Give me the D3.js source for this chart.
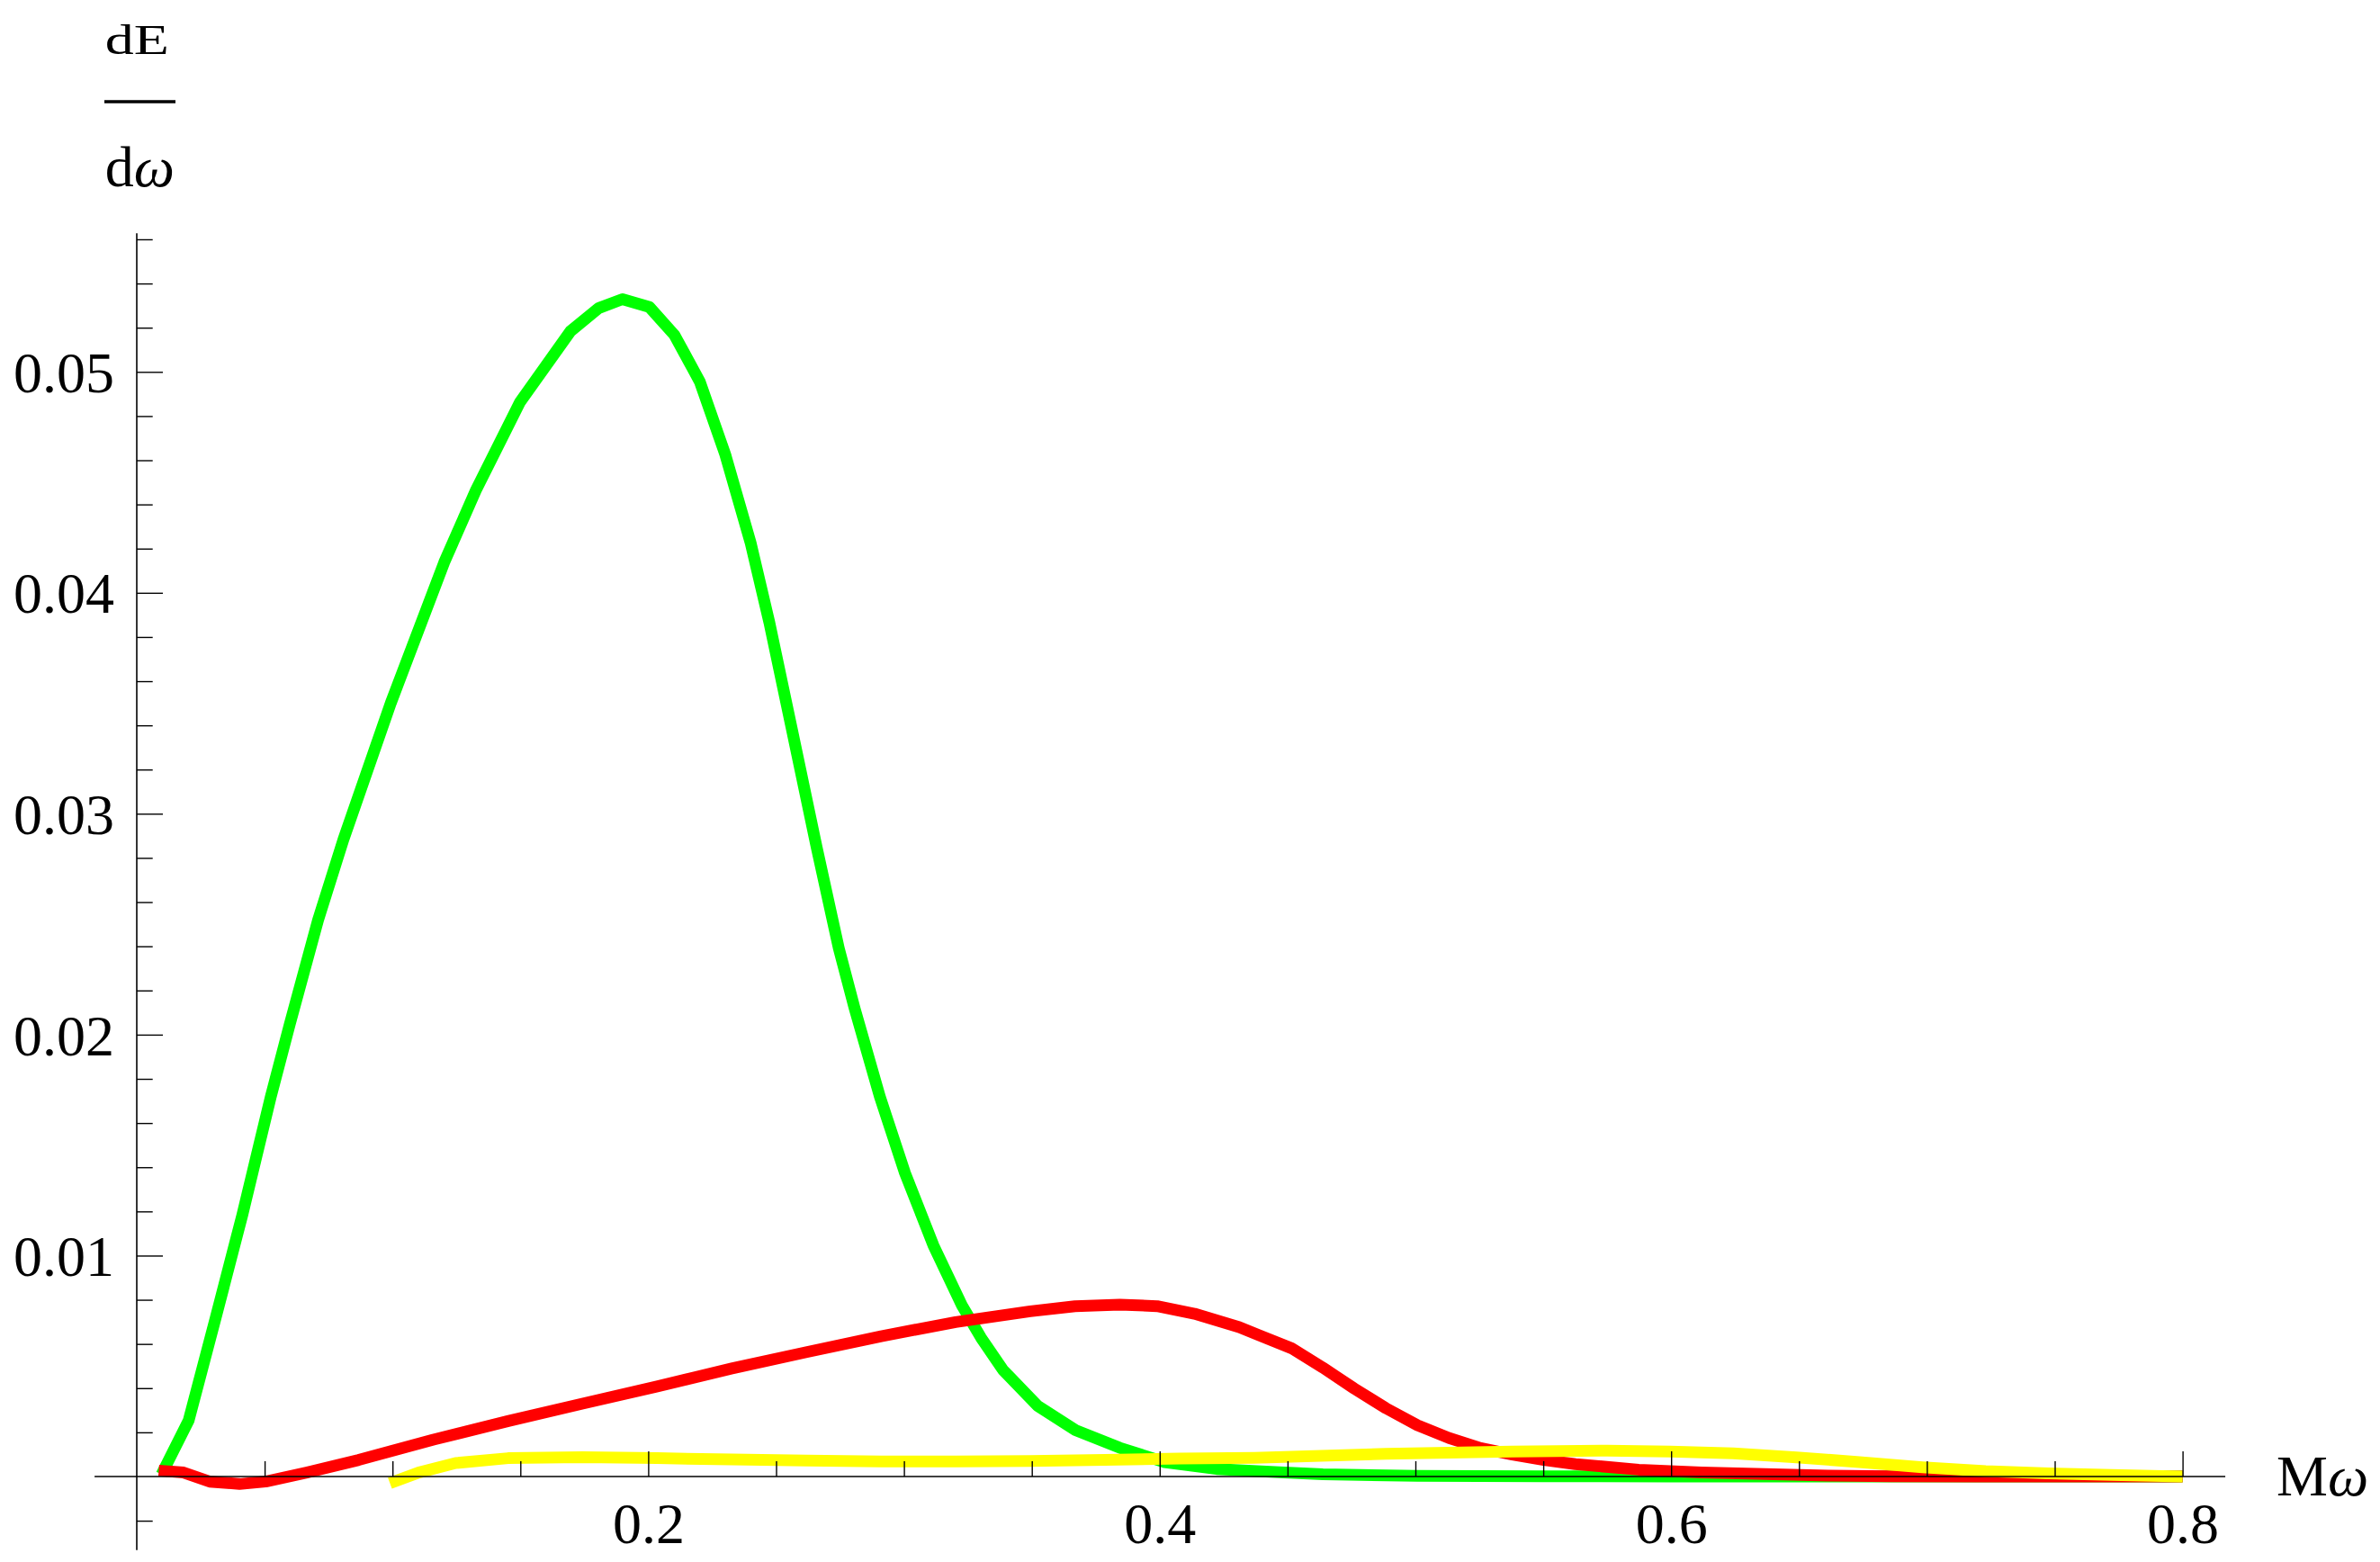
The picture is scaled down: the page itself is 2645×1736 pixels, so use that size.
<!DOCTYPE html>
<html>
<head>
<meta charset="utf-8">
<script src="https://cdn.jsdelivr.net/npm/d3@7"></script>
<style>
  html, body { margin: 0; padding: 0; background: #fff; }
  svg { display: block; }
  text { font-family: "Liberation Serif", "Times New Roman", serif; fill: #000; }
</style>
</head>
<body>
<svg id="chart" width="2645" height="1736"></svg>
<script>
// ---- data ----
const greenX = [0.0097, 0.0203, 0.0309, 0.0413, 0.0524, 0.0598, 0.0709, 0.0808, 0.0993, 0.1202, 0.1326, 0.1499, 0.1696, 0.1807, 0.1899, 0.2005, 0.2103, 0.2202, 0.2301, 0.2400, 0.2474, 0.2560, 0.2659, 0.2745, 0.2807, 0.2906, 0.3004, 0.3115, 0.3227, 0.3301, 0.3387, 0.3523, 0.3671, 0.3844, 0.4019, 0.4223, 0.4486, 0.4638, 0.5007, 0.55, 0.6, 0.65, 0.7, 0.75, 0.8];
const greenY = [0.0001, 0.00254, 0.0072, 0.01185, 0.01719, 0.02046, 0.02519, 0.02883, 0.0350, 0.04137, 0.04464, 0.04864, 0.05184, 0.05289, 0.05329, 0.05293, 0.05166, 0.04955, 0.04627, 0.04228, 0.03864, 0.03392, 0.02846, 0.02392, 0.02119, 0.01719, 0.01374, 0.01047, 0.00774, 0.00629, 0.00483, 0.0032, 0.0021, 0.0013, 0.00065, 0.00034, 0.00018, 0.0001, 0.00003, 0.00001, 0, 0, 0, 0, 0];

const redX = [0.0086, 0.0183, 0.0285, 0.0402, 0.0504, 0.0664, 0.0868, 0.1160, 0.1452, 0.1743, 0.2035, 0.2327, 0.2619, 0.2911, 0.3202, 0.3494, 0.3669, 0.3844, 0.3990, 0.4136, 0.4311, 0.4391, 0.4515, 0.4638, 0.4761, 0.4885, 0.5008, 0.5132, 0.5255, 0.5379, 0.5502, 0.5626, 0.5873, 0.6119, 0.6366, 0.6613, 0.6860, 0.7200, 0.7600, 0.8000];
const redY = [0.00027, 0.00018, -0.00023, -0.00034, -0.00023, 0.00018, 0.00075, 0.00167, 0.00251, 0.0033, 0.00408, 0.00489, 0.00563, 0.00635, 0.00699, 0.00748, 0.00771, 0.00778, 0.00771, 0.00737, 0.00676, 0.00638, 0.00581, 0.00493, 0.00398, 0.00309, 0.00232, 0.00174, 0.00129, 0.00099, 0.00075, 0.00056, 0.00031, 0.00018, 0.00011, 0.00004, 0.00001, 0, 0, 0];

const yellowX = [0.099, 0.1102, 0.1247, 0.1452, 0.1743, 0.2035, 0.2327, 0.2619, 0.2911, 0.3202, 0.3494, 0.3786, 0.4078, 0.4370, 0.4885, 0.5379, 0.5750, 0.5996, 0.6243, 0.6490, 0.6736, 0.6983, 0.7230, 0.7476, 0.7723, 0.8];
const yellowY = [-0.0003, 0.00018, 0.00061, 0.00083, 0.00088, 0.00083, 0.00077, 0.00072, 0.00068, 0.00068, 0.0007, 0.00075, 0.00081, 0.00085, 0.00103, 0.00113, 0.00117, 0.00113, 0.00105, 0.00087, 0.00065, 0.00042, 0.00024, 0.00014, 0.00007, 0];

const xMajorTicks = [0.2, 0.4, 0.6, 0.8];
const xTickLabels = ["0.2", "0.4", "0.6", "0.8"];
const xMinorTicks = [0.05, 0.1, 0.15, 0.25, 0.3, 0.35, 0.45, 0.5, 0.55, 0.65, 0.7, 0.75];
const yMajorTicks = [0.01, 0.02, 0.03, 0.04, 0.05];
const yTickLabels = ["0.01", "0.02", "0.03", "0.04", "0.05"];
const yMinorTicks = [-0.002, 0.002, 0.004, 0.006, 0.008, 0.012, 0.014, 0.016, 0.018, 0.022, 0.024, 0.026, 0.028, 0.032, 0.034, 0.036, 0.038, 0.042, 0.044, 0.046, 0.048, 0.052, 0.054, 0.056];
const xAxisExtent = [-0.0165, 0.8167];
const yAxisExtent = [-0.00333, 0.05627];

const seriesColors = ["#00ff00", "#ff0000", "#ffff00"];

// ---- scales ----
const x = d3.scaleLinear().domain([0, 0.8]).range([152, 2425.6]);
const y = d3.scaleLinear().domain([0, 0.05]).range([1641, 413.3]);

const svg = d3.select("#chart");
const FS = 64;

// ---- curves (green, red, yellow: later drawn on top) ----
const series = [
  greenX.map((v, i) => [v, greenY[i]]),
  redX.map((v, i) => [v, redY[i]]),
  yellowX.map((v, i) => [v, yellowY[i]])
];
const line = d3.line().x(d => x(d[0])).y(d => y(d[1]));
svg.append("g").selectAll("path").data(series).join("path")
  .attr("d", line)
  .attr("fill", "none")
  .attr("stroke", (d, i) => seriesColors[i])
  .attr("stroke-width", 13)
  .attr("stroke-linejoin", "round")
  .attr("stroke-linecap", "butt");

// ---- axes lines ----
svg.append("line")
  .attr("x1", x(xAxisExtent[0])).attr("x2", x(xAxisExtent[1]))
  .attr("y1", y(0)).attr("y2", y(0))
  .attr("stroke", "#000").attr("stroke-width", 1.6);
svg.append("line")
  .attr("x1", x(0)).attr("x2", x(0))
  .attr("y1", y(yAxisExtent[0])).attr("y2", y(yAxisExtent[1]))
  .attr("stroke", "#000").attr("stroke-width", 1.6);

// ---- x axis ticks ----
const xMinorAxis = d3.axisBottom(x).tickValues(xMinorTicks).tickSize(-17).tickFormat("");
const gxm = svg.append("g").attr("transform", `translate(0,${y(0)})`).call(xMinorAxis);
gxm.select(".domain").remove();

const xMajorAxis = d3.axisBottom(x).tickValues(xMajorTicks).tickSize(-28).tickPadding(28.6)
  .tickFormat((d, i) => xTickLabels[i]);
const gx = svg.append("g").attr("transform", `translate(0,${y(0)})`).call(xMajorAxis);
gx.select(".domain").remove();

// ---- y axis ticks ----
const yMinorAxis = d3.axisLeft(y).tickValues(yMinorTicks).tickSize(-17.7).tickFormat("");
const gym = svg.append("g").attr("transform", `translate(${x(0)},0)`).call(yMinorAxis);
gym.select(".domain").remove();

const yMajorAxis = d3.axisLeft(y).tickValues(yMajorTicks).tickSize(-29).tickPadding(25)
  .tickFormat((d, i) => yTickLabels[i]);
const gy = svg.append("g").attr("transform", `translate(${x(0)},0)`).call(yMajorAxis);
gy.select(".domain").remove();

svg.selectAll(".tick line").attr("stroke", "#000").attr("stroke-width", 1.4);
svg.selectAll(".tick text")
  .attr("font-family", '"Liberation Serif", "Times New Roman", serif')
  .attr("font-size", FS)
  .attr("fill", "#000");
gy.selectAll(".tick text").attr("dy", "0.345em");

// ---- axis labels ----
const xl = svg.append("text").attr("x", 2530).attr("y", 1662).attr("font-size", FS);
xl.append("tspan").text("M");
xl.append("tspan").attr("font-style", "italic").text("ω");

svg.append("text")
  .attr("transform", "translate(116.7,60) scale(1,0.72)")
  .attr("font-size", FS)
  .text("dE");
svg.append("line")
  .attr("x1", 116).attr("x2", 195).attr("y1", 113).attr("y2", 113)
  .attr("stroke", "#000").attr("stroke-width", 3.5);
const yl = svg.append("text").attr("x", 116.7).attr("y", 206.7).attr("font-size", FS);
yl.append("tspan").text("d");
yl.append("tspan").attr("font-style", "italic").text("ω");
</script>
</body>
</html>
